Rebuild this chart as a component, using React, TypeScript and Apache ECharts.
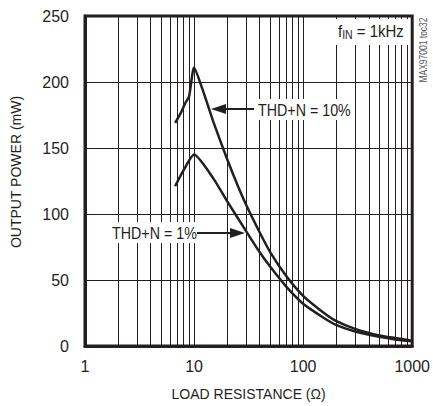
import React, { useEffect, useRef } from "react";
import * as echarts from "echarts";

const thd10: [number, number][] = [
  [6.7, 169], [7.5, 176], [8.3, 184], [9, 189], [10, 211], [12, 194], [15, 170],
  [20, 142], [25, 122], [30, 107], [40, 86], [50, 71], [70, 53], [100, 38],
  [150, 26], [200, 19], [300, 13], [500, 8], [700, 6], [1000, 4],
];
const thd1: [number, number][] = [
  [6.7, 121], [8, 133], [10, 145], [15, 127], [20, 110], [30, 87], [40, 71],
  [50, 60], [70, 45], [100, 32], [150, 22], [200, 16], [300, 11], [500, 7],
  [700, 5], [1000, 3.5],
];
const minorX: number[] = [2, 3, 4, 5, 6, 7, 8, 9, 20, 30, 40, 50, 60, 70, 80, 90, 200, 300, 400, 500, 600, 700, 800, 900];
const yTicks = { min: 0, max: 250, interval: 50 };

const FONT = "'Liberation Sans', Arial, sans-serif";
const INK = "#231f20";

export default function App() {
  const ref = useRef<HTMLDivElement>(null);
  useEffect(() => {
    if (!ref.current) return;
    const chart = echarts.init(ref.current, null, { renderer: "svg" });
    chart.setOption({
      animation: false,
      backgroundColor: "#fff",
      textStyle: { fontFamily: FONT, color: INK },
      grid: { left: 85, top: 16, width: 331, height: 331, show: true, borderColor: INK, borderWidth: 3, backgroundColor: "transparent" },
      xAxis: {
        type: "log", logBase: 10, min: 1, max: 1000,
        name: "LOAD RESISTANCE (Ω)", nameLocation: "middle", nameGap: 41,
        nameTextStyle: { fontSize: 14, color: INK, fontFamily: FONT },
        axisLine: { show: true, lineStyle: { color: INK, width: 3 } },
        axisTick: { show: false },
        axisLabel: { fontSize: 16, color: INK, margin: 12, fontFamily: FONT, formatter: (v: number) => String(v) },
        splitLine: { show: true, lineStyle: { color: INK, width: 1 } },
      },
      yAxis: {
        type: "value", min: yTicks.min, max: yTicks.max, interval: yTicks.interval,
        name: "OUTPUT POWER (mW)", nameLocation: "middle", nameGap: 62, nameRotate: 90,
        nameTextStyle: { fontSize: 14, color: INK, fontFamily: FONT, padding: [0, 0, 0, 18] },
        axisLine: { show: true, lineStyle: { color: INK, width: 3 } },
        axisTick: { show: false },
        axisLabel: { fontSize: 16, color: INK, margin: 16, fontFamily: FONT },
        splitLine: { show: true, lineStyle: { color: INK, width: 1 } },
      },
      series: [
        {
          type: "line", data: [], silent: true,
          markLine: {
            silent: true, symbol: ["none", "none"], label: { show: false },
            lineStyle: { color: INK, width: 1, type: "solid" },
            data: minorX.map((v) => ({ xAxis: v })),
          },
        },
        {
          name: "THD+N = 10%", type: "line", data: thd10, showSymbol: false, smooth: 0.2,
          lineStyle: { color: INK, width: 2.5 }, z: 5,
        },
        {
          name: "THD+N = 1%", type: "line", data: thd1, showSymbol: false, smooth: 0.2,
          lineStyle: { color: INK, width: 2.5 }, z: 5,
        },
      ],
      graphic: [
        { type: "rect", shape: { x: 256, y: 99, width: 98, height: 21 }, style: { fill: "#fff" }, z: 10 },
        { type: "text", x: 258, y: 110, scaleX: 0.84, style: { text: "THD+N = 10%", fill: INK, font: `17px ${FONT}`, textVerticalAlign: "middle" }, z: 11 },
        { type: "line", shape: { x1: 254, y1: 109, x2: 222, y2: 109 }, style: { stroke: INK, lineWidth: 2 }, z: 11 },
        { type: "polygon", shape: { points: [[211, 109], [226, 104], [226, 114]] }, style: { fill: INK }, z: 11 },

        { type: "rect", shape: { x: 109, y: 222, width: 89, height: 21 }, style: { fill: "#fff" }, z: 10 },
        { type: "text", x: 112, y: 233, scaleX: 0.84, style: { text: "THD+N = 1%", fill: INK, font: `17px ${FONT}`, textVerticalAlign: "middle" }, z: 11 },
        { type: "line", shape: { x1: 197, y1: 233, x2: 232, y2: 233 }, style: { stroke: INK, lineWidth: 2 }, z: 11 },
        { type: "polygon", shape: { points: [[245, 233], [230, 228], [230, 238]] }, style: { fill: INK }, z: 11 },

        { type: "rect", shape: { x: 334, y: 19, width: 74, height: 26 }, style: { fill: "#fff" }, z: 10 },
        {
          type: "text", x: 338, y: 31, scaleX: 0.88, z: 11,
          style: {
            text: "{a|f}{b|IN}{a| = 1kHz}",
            rich: {
              a: { fontSize: 17, fontFamily: FONT, fill: INK },
              b: { fontSize: 12, fontFamily: FONT, fill: INK, padding: [8, 0, 0, 0] },
            },
            textVerticalAlign: "middle",
          },
        },
        {
          type: "text", x: 424, y: 50, rotation: Math.PI / 2, scaleX: 0.85, z: 11,
          style: { text: "MAX97001 toc32", fill: "#555", font: `10px ${FONT}`, textAlign: "center", textVerticalAlign: "middle" },
        },
      ],
    });
    return () => chart.dispose();
  }, []);
  return <div ref={ref} style={{ width: 433, height: 406, position: "absolute", left: 0, top: 0 }} />;
}
